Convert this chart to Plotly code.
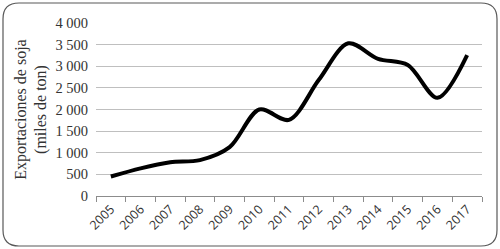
import plotly.graph_objects as go

years = ["2005", "2006", "2007", "2008", "2009", "2010", "2011", "2012", "2013", "2014", "2015", "2016", "2017"]
exports = [450, 640, 780, 830, 1130, 2000, 1760, 2680, 3530, 3170, 3030, 2270, 3260]
y_ticks = [0, 500, 1000, 1500, 2000, 2500, 3000, 3500, 4000]
y_tick_labels = ["0", "500", "1 000", "1 500", "2 000", "2 500", "3 000", "3 500", "4 000"]

W, H = 500, 249
L, R, T, B = 96, 18, 23, 53
pw, ph = W - L - R, H - T - B

fig = go.Figure()
fig.add_trace(go.Scatter(
    x=years, y=exports, mode="lines",
    line=dict(color="black", width=4, shape="spline", smoothing=0.9),
    hoverinfo="skip", showlegend=False,
))

def P(x, y):
    a, b = (x - L) / pw, (H - B - y) / ph
    return f"{a:.5f},{b:.5f}"

x0, y0, x1, y1, r = 3, 3, 497, 246, 16
path = (f"M {P(x0 + r, y0)} L {P(x1 - r, y0)} Q {P(x1, y0)} {P(x1, y0 + r)} "
        f"L {P(x1, y1 - r)} Q {P(x1, y1)} {P(x1 - r, y1)} "
        f"L {P(x0 + r, y1)} Q {P(x0, y1)} {P(x0, y1 - r)} "
        f"L {P(x0, y0 + r)} Q {P(x0, y0)} {P(x0 + r, y0)} Z")
fig.add_shape(type="path", path=path, xref="paper", yref="paper",
              line=dict(color="#595959", width=1.2), layer="below")

fig.update_layout(
    width=W, height=H,
    margin=dict(l=L, r=R, t=T, b=B, autoexpand=False),
    paper_bgcolor="white", plot_bgcolor="white",
    xaxis=dict(
        type="category", tickson="boundaries", ticks="outside", ticklen=5,
        tickcolor="#8c8c8c", showline=True, linecolor="#8c8c8c", linewidth=1,
        showgrid=False, tickangle=-45, automargin=False,
        tickfont=dict(family="Open Sans", size=12.5, color="#333333"),
        range=[-0.5, 12.5],
    ),
    yaxis=dict(
        range=[0, 4000], tickvals=y_ticks, ticktext=y_tick_labels,
        showgrid=True, gridcolor="#bfbfbf", gridwidth=1.2,
        zeroline=False, showline=False, automargin=False,
        ticks="outside", ticklen=4, tickcolor="white",
        tickfont=dict(family="Liberation Serif", size=14.5, color="#333333"),
        title=dict(text="Exportaciones de soja<br>(miles de ton)",
                   font=dict(family="Liberation Serif", size=16, color="#333333"),
                   standoff=4),
    ),
)

fig.write_html("out.html", config={"displayModeBar": False},
               post_script="document.body.style.margin='0';document.body.style.overflow='hidden';")
